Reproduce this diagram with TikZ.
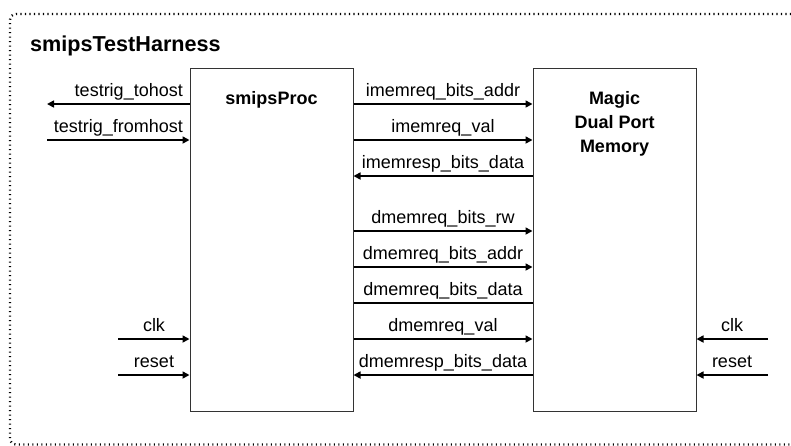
\documentclass[tikz,border=0pt]{standalone}
\usepackage{fontspec}
\setmainfont{Liberation Sans}
\usetikzlibrary{arrows.meta,calc}
\tikzset{
  blk/.style={draw=black!80, line width=1pt, minimum width=163pt, minimum height=343pt, inner sep=0pt},
  sig/.style={line width=1.6pt, -{Triangle[length=7pt,width=7pt]}},
  plainsig/.style={line width=1.6pt},
  lbl/.style={font=\fontsize{18}{21}\selectfont, anchor=base, inner sep=0pt},
  lblr/.style={lbl, anchor=base east},
  ttl/.style={font=\fontsize{18}{24}\selectfont\bfseries, align=center, anchor=base, inner sep=0pt},
  frame/.style={line width=2.4pt, dash pattern=on 1.1pt off 3.4pt, draw=black}
}
\begin{document}
\begin{tikzpicture}[x=1pt,y=-1pt]
\useasboundingbox (0,0) rectangle (791,445);
\begin{scope}
\clip (0,0) rectangle (791,445);
\draw[frame, rounded corners=6pt] (800,14) -- (10,14) -- (10,444.5) -- (800,444.5);
\end{scope}
\node[font=\fontsize{21.6}{24}\selectfont\bfseries, anchor=base west, inner sep=0pt] (title) at (30,51) {smipsTestHarness};

\node[blk] (proc) at (271.5,239.5) {};
\node[blk] (mem) at (614.5,239.5) {};
\node[ttl] (proclbl) at (271.5,104) {smipsProc};
\node[ttl] (memlbl1) at (614.5,104) {Magic};
\node[ttl] (memlbl2) at (614.5,128.5) {Dual Port};
\node[ttl] (memlbl3) at (614.5,152) {Memory};

% y levels
\coordinate (yA) at (0,104);
\coordinate (yB) at (0,140);
\coordinate (yC) at (0,176);
\coordinate (yD) at (0,231);
\coordinate (yE) at (0,267);
\coordinate (yF) at (0,303);
\coordinate (yG) at (0,339);
\coordinate (yH) at (0,375);

% left side
\coordinate (tohostEnd) at (47,104);
\coordinate (fromhostStart) at (47,140);
\coordinate (clkLStart) at (118,339);
\coordinate (rstLStart) at (118,375);
\draw[sig] (proc.west |- yA) -- (tohostEnd);
\draw[sig] (fromhostStart) -- (proc.west |- yB);
\draw[sig] (clkLStart) -- (proc.west |- yG);
\draw[sig] (rstLStart) -- (proc.west |- yH);
\node[lblr] (l1) at (183,96) {testrig\_tohost};
\node[lblr] (l2) at (183,132) {testrig\_fromhost};
\node[lbl] (l3) at (154,331) {clk};
\node[lbl] (l4) at (154,367) {reset};

% right side
\coordinate (clkRStart) at (768,339);
\coordinate (rstRStart) at (768,375);
\draw[sig] (clkRStart) -- (mem.east |- yG);
\draw[sig] (rstRStart) -- (mem.east |- yH);
\node[lbl] (r1) at (732,331) {clk};
\node[lbl] (r2) at (732,367) {reset};

% middle
\draw[sig] (proc.east |- yA) -- (mem.west |- yA);
\draw[sig] (proc.east |- yB) -- (mem.west |- yB);
\draw[sig] (mem.west |- yC) -- (proc.east |- yC);
\draw[sig] (proc.east |- yD) -- (mem.west |- yD);
\draw[sig] (proc.east |- yE) -- (mem.west |- yE);
\draw[plainsig] (proc.east |- yF) -- (mem.west |- yF);
\draw[sig] (proc.east |- yG) -- (mem.west |- yG);
\draw[sig] (mem.west |- yH) -- (proc.east |- yH);
\node[lbl] (m1) at (443,96) {imemreq\_bits\_addr};
\node[lbl] (m2) at (443,132) {imemreq\_val};
\node[lbl] (m3) at (443,168) {imemresp\_bits\_data};
\node[lbl] (m4) at (443,223) {dmemreq\_bits\_rw};
\node[lbl] (m5) at (443,259) {dmemreq\_bits\_addr};
\node[lbl] (m6) at (443,295) {dmemreq\_bits\_data};
\node[lbl] (m7) at (443,331) {dmemreq\_val};
\node[lbl] (m8) at (443,367) {dmemresp\_bits\_data};
\end{tikzpicture}
\end{document}
